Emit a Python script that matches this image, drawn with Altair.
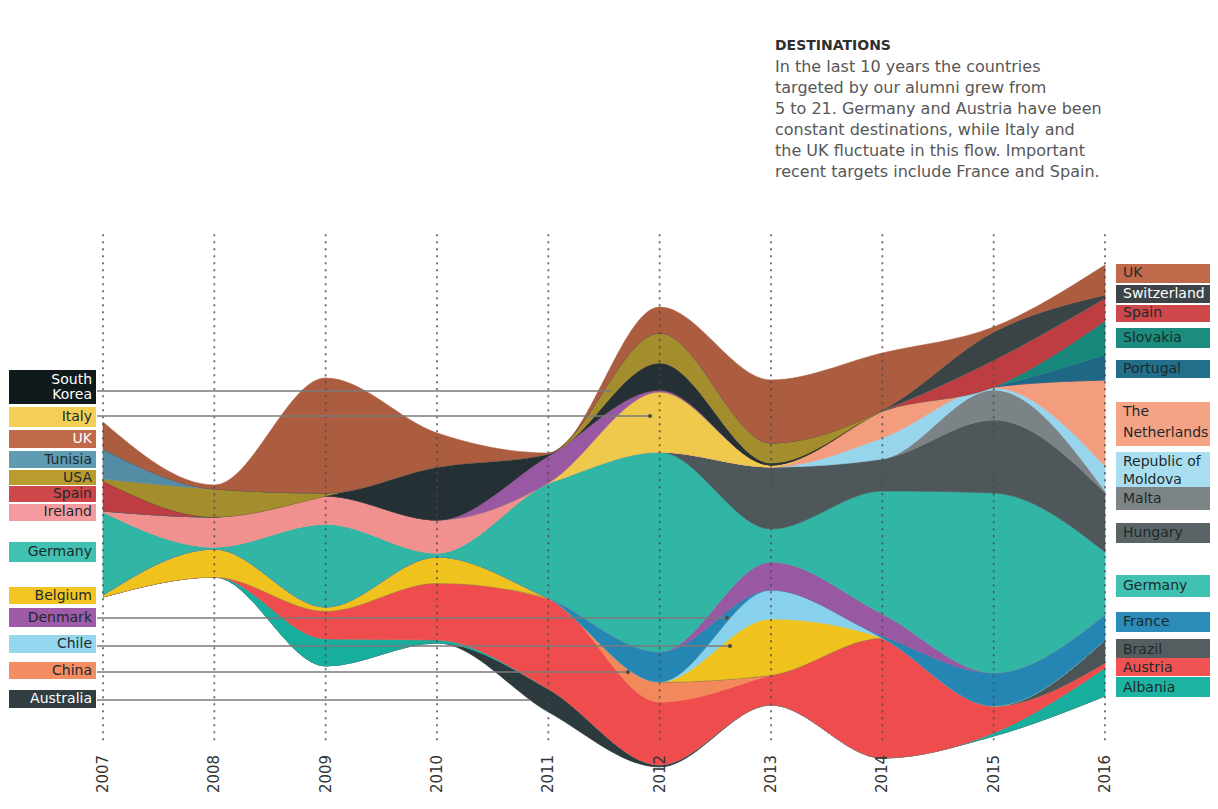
import altair as alt
import pandas as pd

# ------------------------------------------------------------------
# DATA: band thickness per year, 2007..2016
# ------------------------------------------------------------------
YEARS = list(range(2007, 2017))

UK          = [2.7, 0.4, 11.5, 3.4, 0.1, 2.6, 6.3, 5.7, 0.5, 3.0]
SWITZERLAND = [0, 0, 0, 0, 0, 0, 0, 0, 2.8, 0.3]
TUNISIA     = [3.0, 0, 0, 0, 0, 0, 0, 0, 0, 0]
USA         = [0.2, 2.8, 0.3, 0, 0, 3.0, 2.0, 0.1, 0, 0]
SOUTH_KOREA = [0, 0, 0, 5.3, 0.2, 2.7, 0.2, 0, 0, 0]
SPAIN       = [3.0, 0, 0, 0, 0, 0, 0, 0, 2.7, 2.3]
SLOVAKIA    = [0, 0, 0, 0, 0, 0, 0, 0, 0, 3.4]
PORTUGAL    = [0, 0, 0, 0, 0, 0, 0, 0, 0, 2.5]
DENMARK_TOP = [0, 0, 0, 0, 2.7, 0.2, 0, 0, 0, 0]
ITALY       = [0, 0, 0, 0, 0, 6.0, 0.2, 0, 0, 0]
IRELAND     = [0.1, 3.0, 2.8, 3.3, 0, 0, 0, 0, 0, 0]
NETHERLANDS = [0, 0, 0, 0, 0, 0, 0, 2.7, 0.1, 8.6]
MOLDOVA     = [0, 0, 0, 0, 0, 0, 0, 2.1, 0.2, 2.5]
MALTA       = [0, 0, 0, 0, 0, 0, 0, 0, 3.0, 0.2]
HUNGARY     = [0, 0, 0, 0, 0, 0, 6.2, 3.2, 7.3, 5.9]
GERMANY     = [8.3, 0.2, 8.3, 0.4, 11.5, 20.0, 3.3, 12.3, 18.0, 6.3]
DENMARK_BOT = [0, 0, 0, 0, 0, 0, 2.8, 2.2, 0, 0]
FRANCE      = [0, 0, 0, 0, 0, 3.0, 0, 0.2, 3.3, 2.5]
CHILE       = [0, 0, 0, 0, 0, 0, 2.9, 0, 0, 0]
BELGIUM     = [0.2, 2.8, 0.4, 2.6, 0, 0, 5.6, 0, 0, 0]
BRAZIL      = [0, 0, 0, 0, 0, 0, 0, 0, 0, 2.3]
CHINA       = [0, 0, 0, 0, 0.1, 2.0, 0, 0, 0, 0]
AUSTRIA     = [0, 0, 2.8, 5.7, 9.0, 6.3, 3.0, 12.0, 2.7, 0.5]
ALBANIA     = [0, 0, 2.7, 0.3, 0, 0, 0, 0, 0.3, 2.8]
AUSTRALIA   = [0, 0, 0, 0, 2.3, 0.2, 0, 0, 0, 0]
# lower edge of the stream in each year (same units)
FLOOR       = [18.3, 20.3, 11.4, 13.7, 6.8, 1.3, 7.5, 2.2, 4.4, 8.4]

LEFT_NAMES  = ["South Korea", "Italy", "UK", "Tunisia", "USA", "Spain", "Ireland",
               "Germany", "Belgium", "Denmark", "Chile", "China", "Australia"]
RIGHT_NAMES = ["UK", "Switzerland", "Spain", "Slovakia", "Portugal", "The Netherlands",
               "Republic of Moldova", "Malta", "Hungary", "Germany", "France",
               "Brazil", "Austria", "Albania"]

TITLE = "DESTINATIONS"
TEXT_LINES = [
    "In the last 10 years the countries",
    "targeted by our alumni grew from",
    "5 to 21. Germany and Austria have been",
    "constant destinations, while Italy and",
    "the UK fluctuate  in this flow. Important",
    "recent targets include France and Spain.",
]

# stacking order, bottom to top
STACK = [
    ("Australia", "Australia", AUSTRALIA),
    ("Albania", "Albania", ALBANIA),
    ("Austria", "Austria", AUSTRIA),
    ("China", "China", CHINA),
    ("Brazil", "Brazil", BRAZIL),
    ("Belgium", "Belgium", BELGIUM),
    ("Chile", "Chile", CHILE),
    ("France", "France", FRANCE),
    ("Denmark_b", "Denmark", DENMARK_BOT),
    ("Germany", "Germany", GERMANY),
    ("Hungary", "Hungary", HUNGARY),
    ("Malta", "Malta", MALTA),
    ("Moldova", "Republic of Moldova", MOLDOVA),
    ("Netherlands", "The Netherlands", NETHERLANDS),
    ("Ireland", "Ireland", IRELAND),
    ("Italy", "Italy", ITALY),
    ("Denmark_t", "Denmark", DENMARK_TOP),
    ("Portugal", "Portugal", PORTUGAL),
    ("Slovakia", "Slovakia", SLOVAKIA),
    ("Spain", "Spain", SPAIN),
    ("South Korea", "South Korea", SOUTH_KOREA),
    ("USA", "USA", USA),
    ("Tunisia", "Tunisia", TUNISIA),
    ("Switzerland", "Switzerland", SWITZERLAND),
    ("UK", "UK", UK),
]

# ------------------------------------------------------------------
# STYLE
# ------------------------------------------------------------------
AREA_COLORS = {
    "UK": "#ac5d40", "Switzerland": "#3a4346", "Tunisia": "#538ca4", "USA": "#a48d2c",
    "South Korea": "#243034", "Spain": "#bd3d43", "Slovakia": "#17877a",
    "Portugal": "#1e6886", "Denmark": "#9858a2", "Italy": "#efc94c", "Ireland": "#f0918f",
    "The Netherlands": "#f39c7e", "Republic of Moldova": "#97d5ec", "Malta": "#7b8386",
    "Hungary": "#4e585a", "Germany": "#31b5a4", "France": "#2586b4", "Chile": "#88d1ec",
    "Belgium": "#efc21e", "Brazil": "#4b5457", "China": "#f1895b", "Austria": "#ef4d4d",
    "Albania": "#17ae9e", "Australia": "#2c3a3e",
}
BOX_COLORS = dict(AREA_COLORS)
BOX_COLORS.update({
    "UK": "#c06a4b", "South Korea": "#101a1c", "Italy": "#f3d055", "Tunisia": "#5f9bb2",
    "USA": "#b99c2d", "Spain": "#cd474b", "Ireland": "#f59a9e", "Germany": "#40c1b1",
    "Belgium": "#f2c522", "Denmark": "#9d5ba8", "Chile": "#95d7ef", "China": "#f48d63",
    "Australia": "#303d41", "Switzerland": "#3c4447", "Slovakia": "#1b8c7d",
    "Portugal": "#226e8b", "The Netherlands": "#f5a385", "Republic of Moldova": "#a9ddf0",
    "Malta": "#7d8486", "Hungary": "#5a6365", "France": "#2b8bb9", "Brazil": "#555d60",
    "Austria": "#f15353", "Albania": "#1cb3a3",
})
LIGHT_TEXT = {("L", "South Korea"), ("L", "Australia"), ("L", "UK"), ("R", "Switzerland")}
FONT = "DejaVu Sans"
OFF = 8          # page margin
W, H = 1202, 790

# layout of label boxes (page px): top, bottom, text lines with centre y
LEFT_LAYOUT = [
    (370, 404, [("South", 380), ("Korea", 395)]),
    (407, 427, [("Italy", 417)]),
    (430, 448, [("UK", 439)]),
    (451, 468, [("Tunisia", 460)]),
    (470, 485, [("USA", 478)]),
    (486, 502, [("Spain", 494)]),
    (504, 521, [("Ireland", 512)]),
    (542, 562, [("Germany", 552)]),
    (587, 604, [("Belgium", 596)]),
    (608, 627, [("Denmark", 618)]),
    (635, 653, [("Chile", 644)]),
    (662, 679, [("China", 671)]),
    (690, 708, [("Australia", 699)]),
]
RIGHT_LAYOUT = [
    (264, 283, [("UK", 273)]),
    (285, 303, [("Switzerland", 294)]),
    (305, 322, [("Spain", 313)]),
    (328, 348, [("Slovakia", 338)]),
    (360, 378, [("Portugal", 369)]),
    (402, 446, [("The", 412), ("Netherlands", 433)]),
    (452, 487, [("Republic of", 462), ("Moldova", 480)]),
    (487, 510, [("Malta", 499)]),
    (523, 543, [("Hungary", 533)]),
    (575, 597, [("Germany", 586)]),
    (612, 632, [("France", 622)]),
    (639, 658, [("Brazil", 650)]),
    (658, 676, [("Austria", 668)]),
    (677, 697, [("Albania", 688)]),
]
# connector lines: (country, page y, page x end, end dot)
CONNECTORS = [
    ("South Korea", 391, 612, False),
    ("Italy", 416, 650, True),
    ("Denmark", 618, 727, True),
    ("Chile", 646, 730, True),
    ("China", 672, 628, True),
    ("Australia", 700, 530, False),
]

# ------------------------------------------------------------------
# TABLES
# ------------------------------------------------------------------
rows = []
for i, yr in enumerate(YEARS):
    base = FLOOR[i]
    for k, (key, country, vals) in enumerate(STACK):
        top = base + vals[i]
        rows.append(dict(key=key, country=country, year=yr, y0=base, y1=top,
                         k=k, fill=AREA_COLORS[country]))
        base = top
stream = pd.DataFrame(rows)

years_df = pd.DataFrame({"year": YEARS, "label": [str(y) for y in YEARS]})

XS = alt.Scale(domain=[2007, 2016], range=[103 - OFF, 1105 - OFF], nice=False, zero=False)
YS = alt.Scale(domain=[0, 60], range=[780 - OFF, 180 - OFF], nice=False, zero=False)

boxes, ltext, rtext = [], [], []
for name, (t, b, lines) in zip(LEFT_NAMES, LEFT_LAYOUT):
    boxes.append(dict(x0=9 - OFF, x1=96 - OFF, y0=t - OFF, y1=b - OFF, fill=BOX_COLORS[name]))
    for s, yc in lines:
        ltext.append(dict(x=92 - OFF, y=yc - OFF, text=s,
                          tc="#ffffff" if ("L", name) in LIGHT_TEXT else "#1d2a2c"))
for name, (t, b, lines) in zip(RIGHT_NAMES, RIGHT_LAYOUT):
    boxes.append(dict(x0=1116 - OFF, x1=W, y0=t - OFF, y1=b - OFF, fill=BOX_COLORS[name]))
    for s, yc in lines:
        rtext.append(dict(x=1123 - OFF, y=yc - OFF, text=s,
                          tc="#ffffff" if ("R", name) in LIGHT_TEXT else "#1d2a2c"))
boxes = pd.DataFrame(boxes)
ltext = pd.DataFrame(ltext)
rtext = pd.DataFrame(rtext)

conn = pd.DataFrame([dict(x0=97 - OFF, x1=xe - OFF, y=yv - OFF, dot=d)
                     for _, yv, xe, d in CONNECTORS])

header = pd.DataFrame(
    [dict(x=775 - OFF, y=46 - OFF, text=TITLE)]
)
para = pd.DataFrame(
    [dict(x=775 - OFF, y=67 + 21 * i - OFF, text=s) for i, s in enumerate(TEXT_LINES)]
)

# ------------------------------------------------------------------
# CHART
# ------------------------------------------------------------------
areas = alt.Chart(stream).mark_area(interpolate="monotone", strokeWidth=0.6).encode(
    x=alt.X("year:Q", scale=XS, axis=None),
    y=alt.Y("y1:Q", scale=YS, axis=None, stack=None),
    y2="y0:Q",
    color=alt.Color("fill:N", scale=None),
    stroke=alt.Stroke("fill:N", scale=None),
    detail="key:N",
)

vrules = alt.Chart(years_df).mark_rule(
    color="#4a4a4a", opacity=0.75, strokeWidth=2, strokeDash=[0.5, 6.5], strokeCap="round"
).encode(
    x=alt.X("year:Q", scale=XS, axis=None),
    y=alt.value(235 - OFF),
    y2=alt.value(745 - OFF),
)

year_labels = alt.Chart(years_df).mark_text(
    angle=270, fontSize=15, font=FONT, color="#333333", align="center", baseline="middle"
).encode(
    x=alt.X("year:Q", scale=XS, axis=None),
    y=alt.value(774 - OFF),
    text="label:N",
)

connectors = alt.Chart(conn).mark_rule(color="#7a7a7a", strokeWidth=1.3).encode(
    x=alt.X("x0:Q", scale=None), x2="x1:Q", y=alt.Y("y:Q", scale=None)
)
conn_dots = alt.Chart(conn).transform_filter("datum.dot").mark_circle(
    color="#4a4a4a", size=16, opacity=1
).encode(x=alt.X("x1:Q", scale=None), y=alt.Y("y:Q", scale=None))

box_marks = alt.Chart(boxes).mark_rect().encode(
    x=alt.X("x0:Q", scale=None), x2="x1:Q",
    y=alt.Y("y0:Q", scale=None), y2="y1:Q",
    color=alt.Color("fill:N", scale=None),
)
left_text = alt.Chart(ltext).mark_text(
    align="right", baseline="middle", fontSize=14, font=FONT
).encode(
    x=alt.X("x:Q", scale=None), y=alt.Y("y:Q", scale=None),
    text="text:N", color=alt.Color("tc:N", scale=None),
)
right_text = alt.Chart(rtext).mark_text(
    align="left", baseline="middle", fontSize=14, font=FONT
).encode(
    x=alt.X("x:Q", scale=None), y=alt.Y("y:Q", scale=None),
    text="text:N", color=alt.Color("tc:N", scale=None),
)
title_mark = alt.Chart(header).mark_text(
    align="left", baseline="middle", fontSize=14, fontWeight="bold", font=FONT, color="#2f2f2f"
).encode(x=alt.X("x:Q", scale=None), y=alt.Y("y:Q", scale=None), text="text:N")
para_mark = alt.Chart(para).mark_text(
    align="left", baseline="middle", fontSize=16, font=FONT, color="#575757"
).encode(x=alt.X("x:Q", scale=None), y=alt.Y("y:Q", scale=None), text="text:N")

chart = alt.layer(
    areas, vrules, connectors, conn_dots, box_marks, left_text, right_text,
    year_labels, title_mark, para_mark,
).properties(
    width=W, height=H, padding=0, autosize=alt.AutoSizeParams(type="none"),
    background="white",
).configure_view(strokeWidth=0)

chart.save("out.html", embed_options={"renderer": "svg", "actions": False})
